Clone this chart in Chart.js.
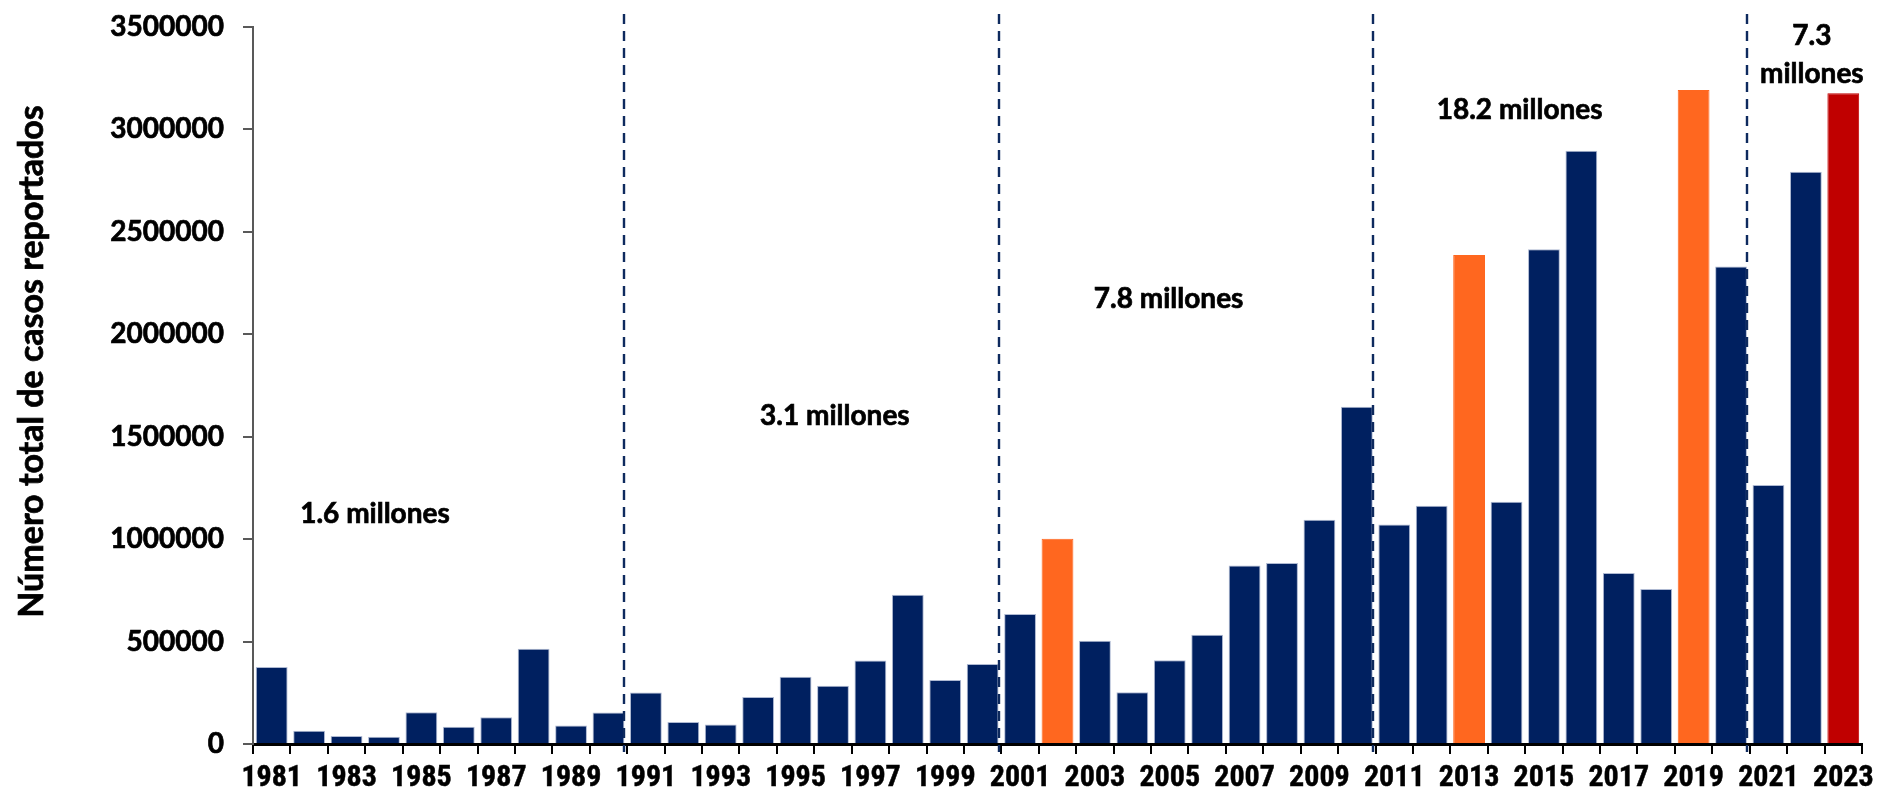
<!DOCTYPE html>
<html>
<head>
<meta charset="utf-8">
<script src="https://cdn.jsdelivr.net/npm/chart.js@4"></script>
<style>
  html, body { margin: 0; padding: 0; background: #ffffff; }
  #wrap { width: 1878px; height: 800px; }
</style>
</head>
<body>
<div id="wrap"><canvas id="c" width="1878" height="800"></canvas></div>
<script>
// ---- data ----
const years = [1981,1982,1983,1984,1985,1986,1987,1988,1989,1990,
               1991,1992,1993,1994,1995,1996,1997,1998,1999,2000,
               2001,2002,2003,2004,2005,2006,2007,2008,2009,2010,
               2011,2012,2013,2014,2015,2016,2017,2018,2019,2020,
               2021,2022,2023];
const cases = [376000,65000,39000,35000,155000,84000,131000,465000,90000,154000,
               251000,108000,95000,230000,328000,284000,408000,728000,313000,390000,
               634000,1002000,504000,253000,409000,533000,871000,883000,1095000,1646000,
               1072000,1163000,2387000,1183000,2415000,2896000,835000,757000,3192000,2331000,
               1264000,2793000,3177000];
const orangeYears = [2002, 2013, 2019];
const redYears = [2023];
const dividerAfterYears = [1990, 2000, 2010, 2020];
const periodTotals = ['1.6 millones', '3.1 millones', '7.8 millones', '18.2 millones', ['7.3', 'millones']];
const yTickValues = [0, 500000, 1000000, 1500000, 2000000, 2500000, 3000000, 3500000];
const yTitle = 'Número total de casos reportados';

// ---- styling ----
const NAVY = '#002060', ORANGE = '#FF671F', RED = '#C00000';
const fillColors = years.map(y => redYears.includes(y) ? RED : (orangeYears.includes(y) ? ORANGE : NAVY));
const edgeColors = years.map((y, i) => (redYears.includes(y) || orangeYears.includes(y)) ? fillColors[i] : '#AEB9D2');

// placement of period labels (category index, value units)
const periodAnchors = [
  {x: 2.76, y: 1123000},
  {x: 15.05, y: 1601000},
  {x: 23.97, y: 2172000},
  {x: 33.35, y: 3095000},
  {x: 41.16, y: 3365000}
];

const dividerPlugin = {
  id: 'dividers',
  afterDatasetsDraw(chart) {
    const meta = chart.getDatasetMeta(0);
    const ctx = chart.ctx;
    const area = chart.chartArea;
    ctx.save();
    ctx.strokeStyle = '#0E2A5E';
    ctx.lineWidth = 2.4;
    ctx.setLineDash([10, 7]);
    dividerAfterYears.forEach(yr => {
      const el = meta.data[years.indexOf(yr)];
      const x = Math.round(el.x + el.width / 2);
      ctx.beginPath();
      ctx.moveTo(x, area.top - 13);
      ctx.lineTo(x, area.bottom + 8);
      ctx.stroke();
    });
    ctx.restore();
  }
};

const labelPlugin = {
  id: 'periodLabels',
  afterDraw(chart) {
    const ctx = chart.ctx;
    const xs = chart.scales.x, ys = chart.scales.y;
    ctx.save();
    ctx.fillStyle = '#000000';
    ctx.strokeStyle = '#000000';
    ctx.lineWidth = 0.7;
    ctx.font = 'bold 28px Lato, "Open Sans", sans-serif';
    ctx.textAlign = 'center';
    ctx.textBaseline = 'middle';
    periodTotals.forEach((t, i) => {
      const a = periodAnchors[i];
      const cx = xs.getPixelForValue(a.x);
      const cy = ys.getPixelForValue(a.y);
      const lines = Array.isArray(t) ? t : [t];
      const lh = 38;
      const start = cy - (lines.length - 1) * lh / 2;
      lines.forEach((ln, k) => { ctx.fillText(ln, cx, start + k * lh); ctx.strokeText(ln, cx, start + k * lh); });
    });
    // y axis title
    const area = chart.chartArea;
    ctx.translate(32, (area.top + area.bottom) / 2 - 24);
    ctx.rotate(-Math.PI / 2);
    ctx.font = 'bold 34px Lato, "Open Sans", sans-serif';
    ctx.fillText(yTitle, 0, 0);
    ctx.strokeText(yTitle, 0, 0);
    ctx.restore();
  }
};

new Chart(document.getElementById('c'), {
  type: 'bar',
  data: {
    labels: years.map(String),
    datasets: [{
      data: cases,
      backgroundColor: fillColors,
      borderColor: edgeColors,
      borderWidth: 1,
      categoryPercentage: 1.0,
      barPercentage: 0.85
    }]
  },
  options: {
    responsive: false,
    animation: false,
    devicePixelRatio: 1,
    layout: { padding: { top: 27, right: 16, left: 0, bottom: 0 } },
    plugins: { legend: { display: false }, tooltip: { enabled: false }, title: { display: false } },
    scales: {
      x: {
        offset: true,
        grid: { display: true, offset: true, drawOnChartArea: false, drawTicks: true, tickLength: 10, color: '#000000', lineWidth: 2 },
        border: { display: true, color: '#000000', width: 3 },
        ticks: {
          autoSkip: false, maxRotation: 0, minRotation: 0, padding: 6,
          color: '#000000',
          textStrokeColor: '#000000', textStrokeWidth: 0.5,
          font: { family: '"Liberation Sans Narrow", "Roboto Condensed", Arial, sans-serif', weight: 'bold', size: 30 },
          callback: (v, i) => (i % 2 === 0 ? String(years[i]) : '')
        },
        afterFit: s => { s.height = 56; s.paddingLeft = 0; s.paddingRight = 0; }
      },
      y: {
        min: 0, max: 3500000,
        afterBuildTicks: s => { s.ticks = yTickValues.map(v => ({ value: v })); },
        grid: { display: true, drawOnChartArea: false, drawTicks: true, tickLength: 10, color: '#595959', lineWidth: 2 },
        border: { display: true, color: '#595959', width: 2 },
        ticks: {
          padding: 19, color: '#000000',
          textStrokeColor: '#000000', textStrokeWidth: 0.7,
          font: { family: 'Lato, "Open Sans", sans-serif', weight: 'bold', size: 28 },
          callback: v => String(v)
        },
        afterFit: s => { s.width = 253; s.paddingTop = 0; s.paddingBottom = 0; }
      }
    }
  },
  plugins: [dividerPlugin, labelPlugin]
});
</script>
</body>
</html>
